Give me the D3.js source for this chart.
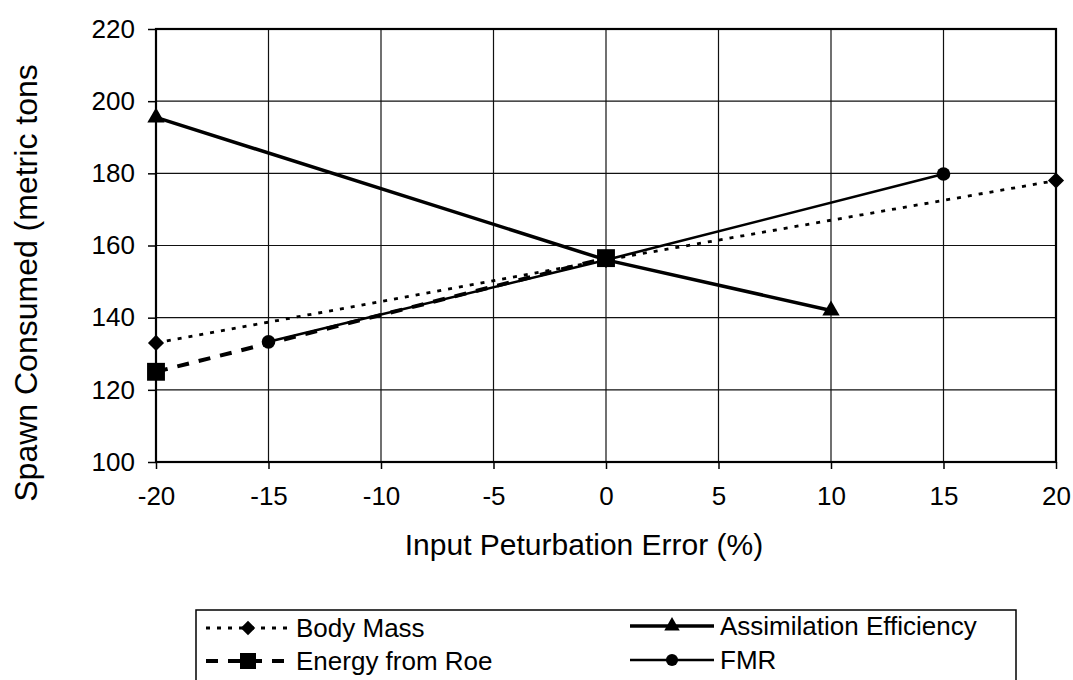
<!DOCTYPE html>
<html>
<head>
<meta charset="utf-8">
<script src="https://cdn.jsdelivr.net/npm/d3@7"></script>
<style>
  body { margin: 0; background: #fff; }
  svg { display: block; font-family: "Liberation Sans", Arial, sans-serif; }
</style>
</head>
<body>
<svg id="chart" width="1073" height="680"></svg>
<script>
const xTicks = [-20, -15, -10, -5, 0, 5, 10, 15, 20];
const yTicks = [100, 120, 140, 160, 180, 200, 220];

const bodyMassX = [-20, 0, 20];
const bodyMass = [133, 156, 178];
const roeX = [-20, 0];
const roe = [125, 156.5];
const assimX = [-20, 0, 10];
const assim = [195.5, 156, 142];
const fmrX = [-15, 0, 15];
const fmr = [133.3, 156, 179.8];

const series = [
  { name: "Body Mass", xs: bodyMassX, ys: bodyMass, width: 2.8, dash: "4,7", marker: "diamond", size: 130, rotate: 45 },
  { name: "Assimilation Efficiency", xs: assimX, ys: assim, width: 3.5, dash: null, marker: "triangle", size: 130, rotate: 0 },
  { name: "FMR", xs: fmrX, ys: fmr, width: 2.6, dash: null, marker: "circle", size: 145, rotate: 0 },
  { name: "Energy from Roe", xs: roeX, ys: roe, width: 4, dash: "12,10", marker: "square", size: 320, rotate: 0 },
];

const svg = d3.select("#chart");
const plotLeft = 156, plotRight = 1056, plotTop = 29, plotBottom = 462;

const x = d3.scaleLinear().domain([-20, 20]).range([plotLeft, plotRight]);
const y = d3.scaleLinear().domain([100, 220]).range([plotBottom, plotTop]);

// gridlines
svg.append("g")
  .selectAll("line")
  .data(xTicks)
  .join("line")
  .attr("x1", d => x(d)).attr("x2", d => x(d))
  .attr("y1", plotTop).attr("y2", plotBottom)
  .attr("stroke", "#111").attr("stroke-width", 1.2);

svg.append("g")
  .selectAll("line")
  .data(yTicks)
  .join("line")
  .attr("x1", plotLeft).attr("x2", plotRight)
  .attr("y1", d => y(d)).attr("y2", d => y(d))
  .attr("stroke", "#111").attr("stroke-width", 1.2);

// frame
svg.append("rect")
  .attr("x", plotLeft).attr("y", plotTop)
  .attr("width", plotRight - plotLeft).attr("height", plotBottom - plotTop)
  .attr("fill", "none").attr("stroke", "#000").attr("stroke-width", 2.2);

// axes
const xAxis = svg.append("g")
  .attr("transform", `translate(0,${plotBottom})`)
  .call(d3.axisBottom(x).tickValues(xTicks).tickSize(7).tickPadding(18).tickFormat(d3.format("d")));
const yAxis = svg.append("g")
  .attr("transform", `translate(${plotLeft},0)`)
  .call(d3.axisLeft(y).tickValues(yTicks).tickSize(8).tickPadding(13));

[xAxis, yAxis].forEach(a => {
  a.select(".domain").remove();
  a.selectAll(".tick line").attr("stroke", "#000").attr("stroke-width", 1.5);
  a.selectAll(".tick text")
    .attr("fill", "#000")
    .style("font-family", "'Liberation Sans', Arial, sans-serif")
    .style("font-size", "26px");
});
xAxis.selectAll(".tick text").text(d => d < 0 ? "-" + Math.abs(d) : d);

// axis titles
svg.append("text")
  .attr("x", 584).attr("y", 555)
  .attr("text-anchor", "middle")
  .style("font-size", "30px")
  .text("Input Peturbation Error (%)");

svg.append("text")
  .attr("transform", "translate(37,283) rotate(-90)")
  .attr("text-anchor", "middle")
  .style("font-size", "32px")
  .text("Spawn Consumed (metric tons");

// series
const line = d3.line().x(d => x(d[0])).y(d => y(d[1]));
const symbolType = {
  diamond: d3.symbolSquare,
  triangle: d3.symbolTriangle,
  circle: d3.symbolCircle,
  square: d3.symbolSquare,
};

series.forEach(s => {
  const pts = s.xs.map((v, i) => [v, s.ys[i]]);
  svg.append("path")
    .datum(pts)
    .attr("d", line)
    .attr("fill", "none")
    .attr("stroke", "#000")
    .attr("stroke-width", s.width)
    .attr("stroke-dasharray", s.dash);
});

series.forEach(s => {
  const pts = s.xs.map((v, i) => [v, s.ys[i]]);
  svg.append("g")
    .selectAll("path")
    .data(pts)
    .join("path")
    .attr("transform", d => `translate(${x(d[0])},${y(d[1])}) rotate(${s.rotate})`)
    .attr("d", d3.symbol().type(symbolType[s.marker]).size(s.size))
    .attr("fill", "#000");
});

// legend
const legend = svg.append("g");
legend.append("rect")
  .attr("x", 196).attr("y", 610)
  .attr("width", 820).attr("height", 90)
  .attr("fill", "#fff").attr("stroke", "#000").attr("stroke-width", 1.5);

const legendItems = [
  { s: series[0], lx: 206, ly: 628 },
  { s: series[3], lx: 206, ly: 661 },
  { s: series[1], lx: 630, ly: 626 },
  { s: series[2], lx: 630, ly: 660 },
];

legendItems.forEach(({ s, lx, ly }) => {
  legend.append("line")
    .attr("x1", lx).attr("x2", lx + 84)
    .attr("y1", ly).attr("y2", ly)
    .attr("stroke", "#000")
    .attr("stroke-width", s.width)
    .attr("stroke-dasharray", s.dash);
  legend.append("path")
    .attr("transform", `translate(${lx + 42},${ly}) rotate(${s.rotate})`)
    .attr("d", d3.symbol().type(symbolType[s.marker]).size(s.size * 0.8))
    .attr("fill", "#000");
  legend.append("text")
    .attr("x", lx + 90).attr("y", ly)
    .attr("dy", "0.35em")
    .style("font-size", "26px")
    .text(s.name);
});
</script>
</body>
</html>
